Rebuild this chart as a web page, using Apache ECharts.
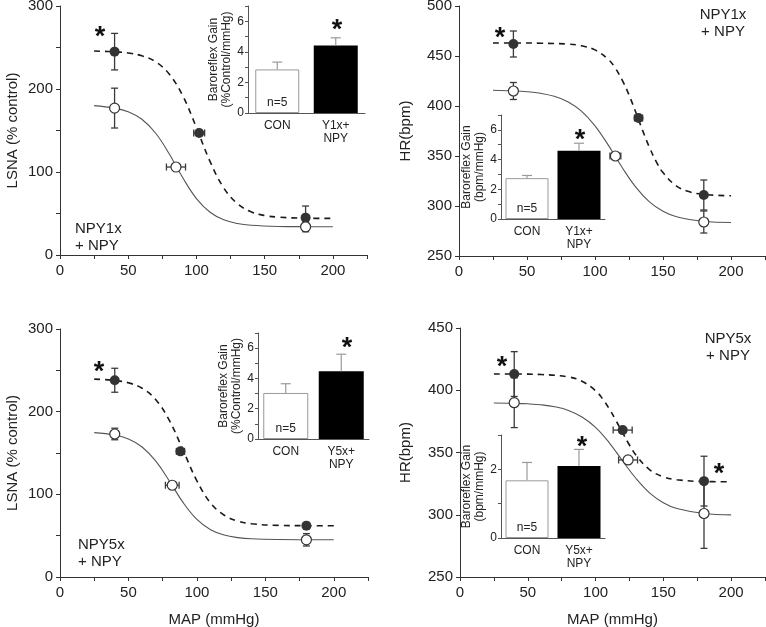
<!DOCTYPE html>
<html>
<head>
<meta charset="utf-8">
<script src="https://cdn.jsdelivr.net/npm/echarts@6/dist/echarts.min.js"></script>
<style>
  html, body { margin: 0; padding: 0; background: #fff; }
  #chart { width: 766px; height: 627px; }
</style>
</head>
<body>
<div id="chart"></div>
<script>
// each point: [MAP, value, MAP error, value error]
const lsna1Ctrl = [[40, 177, 0, 24], [85, 106, 7, 0], [180, 34, 0, 6]];
const lsna1Npy = [[40, 245, 0, 22], [102, 147, 4, 0], [180, 45, 0, 14]];
const hr1Ctrl = [[40, 415, 0, 8.5], [115, 350, 4, 0], [180, 284, 0, 11]];
const hr1Npy = [[40, 462, 0, 13], [132, 388, 3, 0], [180, 311, 0, 15]];
const lsna5Ctrl = [[40, 173, 0, 7], [82, 111, 5, 0], [180, 45, 0, 7.5]];
const lsna5Npy = [[40, 238, 0, 14.5], [88, 152, 3, 0], [180, 62, 0, 4]];
const hr5Ctrl = [[40, 390, 0, 20], [124, 344, 7, 0], [180, 301, 0, 28]];
const hr5Npy = [[40, 413, 0, 18], [120, 368, 7, 0], [180, 327, 0, 20]];

// fitted curves
const lsna1CtrlFit = [[25, 180], [40, 177], [50, 172.6], [60, 163.5], [70, 147], [80, 122], [90, 93], [100, 68], [110, 51.5], [120, 42.4], [130, 37.9], [140, 35.8], [160, 34.4], [180, 34.1], [200, 34]];
const lsna1NpyFit = [[25, 245.7], [40, 244.9], [50, 243.4], [60, 240], [70, 232.9], [80, 218], [90, 191.7], [100, 153.4], [110, 112.5], [120, 80.8], [130, 61.9], [140, 52.1], [150, 47.6], [160, 45.6], [180, 44.3], [200, 44.1]];
const hr1CtrlFit = [[25, 415.7], [40, 415.1], [50, 414.3], [60, 412.7], [70, 409.7], [80, 404.3], [90, 394.9], [100, 380.2], [110, 360.4], [120, 338.5], [130, 318.8], [140, 304.1], [150, 294.8], [160, 289.3], [180, 284.7], [200, 283.5]];
const hr1NpyFit = [[25, 463], [40, 463], [60, 462.8], [80, 461.9], [90, 460.2], [100, 456.1], [110, 446.3], [115, 437.7], [120, 425.9], [125, 411.1], [130, 393.7], [135, 375.6], [140, 358.7], [145, 344.4], [150, 333.4], [160, 319.9], [170, 314], [180, 311.6], [200, 310.2]];
const lsna5CtrlFit = [[25, 174.7], [40, 171.8], [50, 167], [60, 157.3], [70, 140.1], [80, 115.8], [90, 89.9], [100, 69.6], [110, 57.2], [120, 50.7], [130, 47.6], [140, 46.2], [160, 45.3], [180, 45.1], [200, 45]];
const lsna5NpyFit = [[25, 239.4], [40, 237.8], [50, 234.9], [60, 228.3], [70, 214.4], [80, 189.1], [90, 153], [100, 116.3], [110, 89.5], [120, 74.7], [130, 67.6], [140, 64.4], [160, 62.4], [180, 62.1], [200, 62]];
const hr5CtrlFit = [[25, 389.8], [40, 389.5], [50, 389.1], [60, 388.3], [70, 386.7], [80, 383.8], [90, 378.5], [100, 370.2], [110, 358], [120, 343.2], [130, 328.9], [140, 317.4], [150, 309.7], [160, 305], [180, 301], [200, 299.9]];
const hr5NpyFit = [[25, 413], [40, 413], [60, 412.6], [80, 410.7], [90, 407.2], [100, 399.6], [105, 393.4], [110, 385.3], [115, 375.8], [120, 365.7], [125, 356], [130, 347.6], [140, 336.1], [150, 330.5], [160, 328.1], [180, 326.7], [200, 326.5]];

// inset bars: baroreflex gain
const y1Groups = ['CON', 'Y1x+\nNPY'];
const y5Groups = ['CON', 'Y5x+\nNPY'];
const gainLsna1 = [2.85, 4.41], gainLsna1Err = [0.48, 0.51];
const gainHr1 = [2.75, 4.6], gainHr1Err = [0.18, 0.5];
const gainLsna5 = [3.04, 4.48], gainLsna5Err = [0.61, 1.12];
const gainHr5 = [1.68, 2.1], gainHr5Err = [0.52, 0.48];

const FONT = 'Liberation Sans, Arial, sans-serif';
const chart = echarts.init(document.getElementById('chart'));

const grids = [], xAxes = [], yAxes = [], series = [];

function errBars(params, api) {
  const x = api.value(0), y = api.value(1), ex = api.value(2), ey = api.value(3);
  const st = { stroke: '#3a3a3a', lineWidth: 1.3 };
  const c = [], cap = 3.5;
  if (ey > 0) {
    const t = api.coord([x, y + ey]), b = api.coord([x, y - ey]);
    c.push({ type: 'line', shape: { x1: t[0], y1: t[1], x2: b[0], y2: b[1] }, style: st });
    c.push({ type: 'line', shape: { x1: t[0] - cap, y1: t[1], x2: t[0] + cap, y2: t[1] }, style: st });
    c.push({ type: 'line', shape: { x1: b[0] - cap, y1: b[1], x2: b[0] + cap, y2: b[1] }, style: st });
  }
  if (ex > 0) {
    const l = api.coord([x - ex, y]), r = api.coord([x + ex, y]);
    c.push({ type: 'line', shape: { x1: l[0], y1: l[1], x2: r[0], y2: r[1] }, style: st });
    c.push({ type: 'line', shape: { x1: l[0], y1: l[1] - cap, x2: l[0], y2: l[1] + cap }, style: st });
    c.push({ type: 'line', shape: { x1: r[0], y1: r[1] - cap, x2: r[0], y2: r[1] + cap }, style: st });
  }
  return { type: 'group', children: c };
}

function barErr(params, api) {
  const top = api.coord([api.value(0), api.value(1) + api.value(2)]);
  const base = api.coord([api.value(0), api.value(1)]);
  const st = { stroke: '#9a9a9a', lineWidth: 1.2 };
  return {
    type: 'group', children: [
      { type: 'line', shape: { x1: top[0], y1: top[1], x2: base[0], y2: base[1] }, style: st },
      { type: 'line', shape: { x1: top[0] - 5, y1: top[1], x2: top[0] + 5, y2: top[1] }, style: st }
    ]
  };
}

function addPanel(box, yMin, yMax, yLabelStep, yName, nameGap, showXName, ctrl, npy, ctrlFit, npyFit) {
  const g = grids.length;
  grids.push(Object.assign({ outerBoundsMode: 'none' }, box));
  xAxes.push({
    type: 'value', gridIndex: g, min: 0, max: 225, interval: 25,
    name: showXName ? 'MAP (mmHg)' : '', nameLocation: 'middle', nameGap: 35,
    nameTextStyle: { fontSize: 15, color: '#222', fontFamily: FONT },
    axisLine: { lineStyle: { color: '#333' } },
    axisTick: { length: 4, lineStyle: { color: '#333' } },
    splitLine: { show: false },
    axisLabel: { fontSize: 15, color: '#222', fontFamily: FONT, margin: 8,
      formatter: v => (v % 50 === 0 && v <= 200) ? v : '' }
  });
  yAxes.push({
    type: 'value', gridIndex: g, min: yMin, max: yMax, interval: 50,
    name: yName, nameLocation: 'middle', nameGap: nameGap,
    nameTextStyle: { fontSize: 15, color: '#222', fontFamily: FONT },
    axisLine: { show: true, lineStyle: { color: '#333' } },
    axisTick: { show: true, length: 4, lineStyle: { color: '#333' } },
    splitLine: { show: false },
    axisLabel: { fontSize: 15, color: '#222', fontFamily: FONT, margin: 7,
      formatter: v => ((v - yMin) % yLabelStep === 0) ? v : '' }
  });
  const ax = { xAxisIndex: g, yAxisIndex: g };
  series.push(Object.assign({ type: 'line', data: ctrlFit, smooth: 0.4, symbol: 'none',
    lineStyle: { color: '#555', width: 1.1 }, z: 2, silent: true }, ax));
  series.push(Object.assign({ type: 'line', data: npyFit, smooth: 0.4, symbol: 'none',
    lineStyle: { color: '#1a1a1a', width: 1.6, type: [6, 5] }, z: 2, silent: true }, ax));
  series.push(Object.assign({ type: 'custom', renderItem: errBars, data: ctrl, z: 3, silent: true }, ax));
  series.push(Object.assign({ type: 'custom', renderItem: errBars, data: npy, z: 3, silent: true }, ax));
  series.push(Object.assign({ type: 'scatter', data: npy.map(p => [p[0], p[1]]), symbolSize: 10,
    itemStyle: { color: '#333', opacity: 1 }, z: 4 }, ax));
  series.push(Object.assign({ type: 'scatter', data: ctrl.map(p => [p[0], p[1]]), symbolSize: 10,
    itemStyle: { color: '#fff', borderColor: '#333', borderWidth: 1.2, opacity: 1 }, z: 5 }, ax));
}

function addInset(box, cats, vals, errs, yMax, unit, barWidth) {
  const g = grids.length;
  grids.push(Object.assign({ outerBoundsMode: 'none' }, box));
  xAxes.push({
    type: 'category', gridIndex: g, data: cats,
    axisLine: { lineStyle: { color: '#555' } },
    axisTick: { show: false },
    axisLabel: { fontSize: 12, color: '#222', fontFamily: FONT, margin: 6, lineHeight: 13, interval: 0 }
  });
  yAxes.push({
    type: 'value', gridIndex: g, min: 0, max: yMax, interval: 1,
    name: 'Baroreflex Gain\n(' + unit + ')', nameLocation: 'middle', nameGap: 12,
    nameTextStyle: { fontSize: 12, color: '#222', fontFamily: FONT, lineHeight: 13 },
    axisLine: { show: true, lineStyle: { color: '#555' } },
    axisTick: { show: true, length: 3, lineStyle: { color: '#555' } },
    splitLine: { show: false },
    axisLabel: { fontSize: 12, color: '#222', fontFamily: FONT, margin: 4,
      formatter: v => (v % 2 === 0) ? v : '' }
  });
  const ax = { xAxisIndex: g, yAxisIndex: g };
  series.push(Object.assign({
    type: 'bar', barWidth: barWidth, silent: true, z: 2,
    data: [
      { value: vals[0], itemStyle: { color: '#fff', borderColor: '#999', borderWidth: 1 },
        label: { show: true, position: 'insideBottom', distance: 4, formatter: 'n=5',
          fontSize: 12, color: '#222', fontFamily: FONT } },
      { value: vals[1], itemStyle: { color: '#000' } }
    ]
  }, ax));
  series.push(Object.assign({ type: 'custom', renderItem: barErr, z: 3, silent: true,
    data: vals.map((v, i) => [i, v, errs[i]]) }, ax));
}

addPanel({ left: 60, top: 6, width: 307, height: 249 }, 0, 300, 100, 'LSNA (% control)', 40, false,
  lsna1Ctrl, lsna1Npy, lsna1CtrlFit, lsna1NpyFit);
addPanel({ left: 459, top: 6, width: 306, height: 250 }, 250, 500, 50, 'HR(bpm)', 46, false,
  hr1Ctrl, hr1Npy, hr1CtrlFit, hr1NpyFit);
addPanel({ left: 60, top: 329, width: 308, height: 248 }, 0, 300, 100, 'LSNA (% control)', 40, true,
  lsna5Ctrl, lsna5Npy, lsna5CtrlFit, lsna5NpyFit);
addPanel({ left: 460, top: 328, width: 305, height: 249 }, 250, 450, 50, 'HR(bpm)', 47, true,
  hr5Ctrl, hr5Npy, hr5CtrlFit, hr5NpyFit);

addInset({ left: 248, top: 6, width: 117, height: 107 }, y1Groups, gainLsna1, gainLsna1Err, 7, '%Control/mmHg', 44);
addInset({ left: 501, top: 115, width: 104, height: 104 }, y1Groups, gainHr1, gainHr1Err, 7, 'bpm/mmHg', 43);
addInset({ left: 258, top: 333, width: 111, height: 106 }, y5Groups, gainLsna5, gainLsna5Err, 7, '%Control/mmHg', 45);
addInset({ left: 501, top: 435, width: 104, height: 103 }, y5Groups, gainHr5, gainHr5Err, 3, 'bpm/mmHg', 43);

// annotations
const star = (x, y) => ({ type: 'text', x: x, y: y + 6, style: { text: '*', font: 'bold 27px ' + FONT,
  fill: '#111', textAlign: 'center', textVerticalAlign: 'middle' } });
const note = (x, y, text, align) => ({ type: 'text', x: x, y: y, style: { text: text, font: '15px ' + FONT,
  fill: '#222', textAlign: align, textVerticalAlign: 'middle', lineHeight: 17 } });

const graphics = [
  star(100, 32), star(337, 25), star(500, 33), star(580, 135),
  star(99, 367), star(347, 343), star(502, 362), star(719, 469), star(582, 442),
  note(75, 237, 'NPY1x\n+ NPY', 'left'),
  note(723, 23, 'NPY1x\n+ NPY', 'center'),
  note(78, 553, 'NPY5x\n+ NPY', 'left'),
  note(728, 347, 'NPY5x\n+ NPY', 'center')
];

chart.setOption({
  backgroundColor: '#fff',
  animation: false,
  grid: grids,
  xAxis: xAxes,
  yAxis: yAxes,
  series: series,
  graphic: graphics
});
</script>
</body>
</html>
